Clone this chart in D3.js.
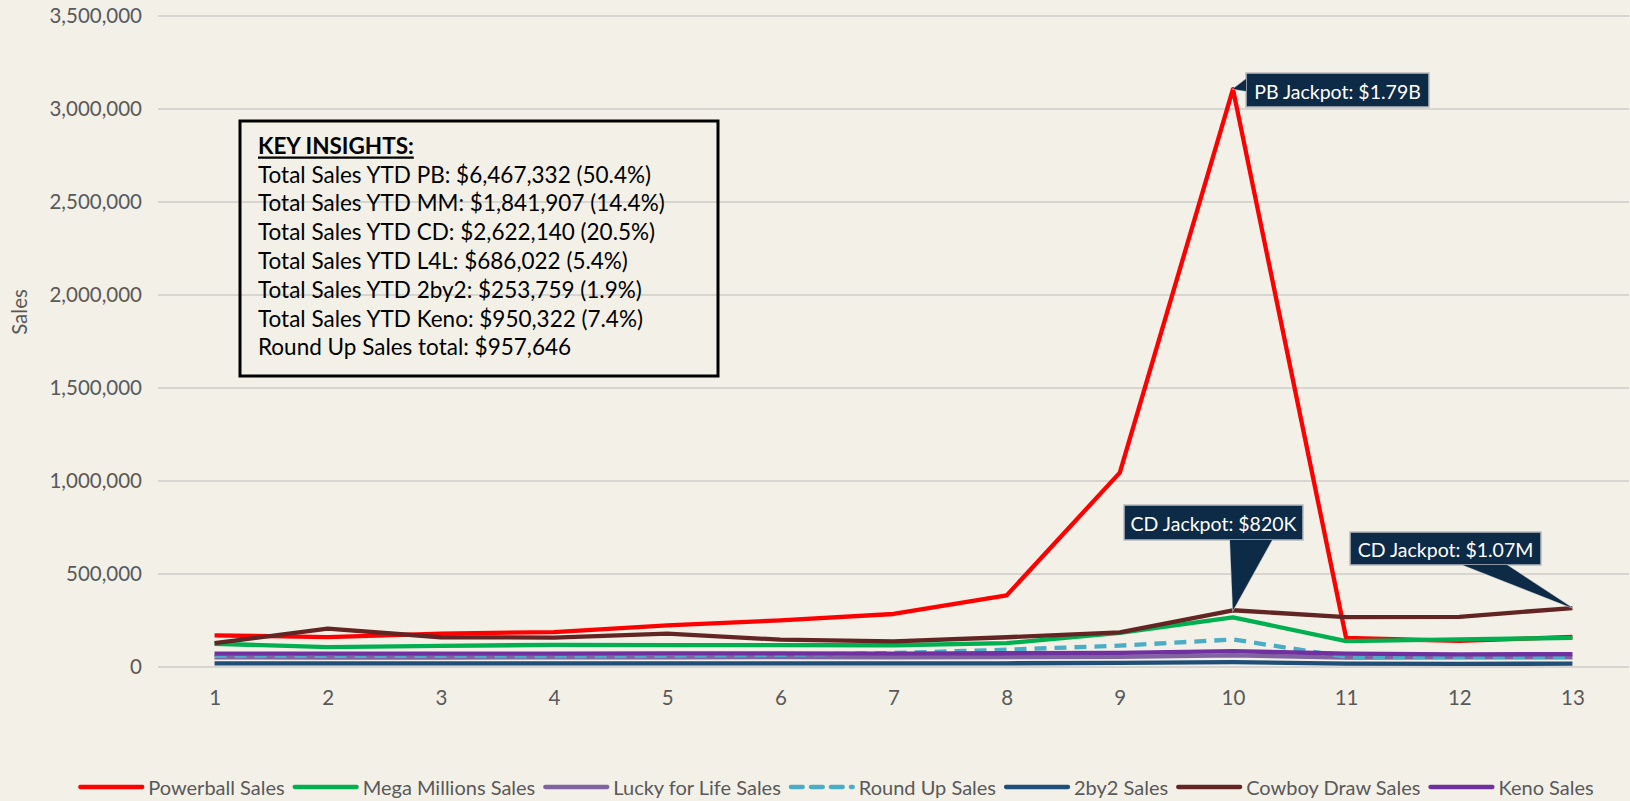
<!DOCTYPE html>
<html>
<head>
<meta charset="utf-8">
<script src="https://cdn.jsdelivr.net/npm/d3@7"></script>
<style>
  html, body { margin: 0; padding: 0; background: #f3f0e7; }
  svg { display: block; }
  text { font-family: Lato, "Open Sans", sans-serif; }
</style>
</head>
<body>
<svg id="chart" width="1630" height="801"></svg>
<script>
// ---- data ----
const weeks = [1,2,3,4,5,6,7,8,9,10,11,12,13];
const powerball    = [170000,161000,179000,188000,224000,251000,285000,385000,1045000,3107000,156000,140000,162000];
const megaMillions = [125000,107000,114000,119000,118000,118000,117000,128000,184000,267000,139000,148000,157000];
const luckyForLife = [52000,50000,51000,52000,52000,53000,52000,53000,54000,62000,51000,52000,52000];
const roundUp      = [60000,60000,60000,58000,60000,65000,75000,93000,115000,148000,55000,54000,54000];
const twoByTwo     = [19000,19000,19000,19000,19000,19000,19000,20000,22000,26000,18000,17000,18000];
const cowboyDraw   = [128000,206000,160000,158000,179000,147000,138000,160000,186000,305000,268000,270000,317000];
const keno         = [72000,72000,72000,72000,73000,73000,72000,74000,76000,85000,72000,68000,69000];
const seriesNames  = ["Powerball Sales","Mega Millions Sales","Lucky for Life Sales","Round Up Sales","2by2 Sales","Cowboy Draw Sales","Keno Sales"];
const seriesColors = ["#ff0000","#00b050","#8064a2","#4bacc6","#1f4e79","#632523","#7030a0"];
const yTicks = [0,500000,1000000,1500000,2000000,2500000,3000000,3500000];
const insights = [
  "Total Sales YTD PB: $6,467,332 (50.4%)",
  "Total Sales YTD MM: $1,841,907 (14.4%)",
  "Total Sales YTD CD: $2,622,140 (20.5%)",
  "Total Sales YTD L4L: $686,022 (5.4%)",
  "Total Sales YTD 2by2: $253,759 (1.9%)",
  "Total Sales YTD Keno: $950,322 (7.4%)",
  "Round Up Sales total: $957,646"
];
const callouts = [
  {text: "PB Jackpot: $1.79B", series: 0, week: 10},
  {text: "CD Jackpot: $820K", series: 5, week: 10},
  {text: "CD Jackpot: $1.07M", series: 5, week: 13}
];

const allSeries = [powerball, megaMillions, luckyForLife, roundUp, twoByTwo, cowboyDraw, keno];

(function () {
// ---- layout ----
const svg = d3.select("#chart");
const W = 1630, H = 801;
const pLeft = 158, pRight = 1629, pTop = 16, pBottom = 667;

const x = d3.scalePoint().domain(weeks).range([pLeft, pRight]).padding(0.5);
const y = d3.scaleLinear().domain([0, 3500000]).range([pBottom, pTop]);

svg.append("rect").attr("width", W).attr("height", H).attr("fill", "#f3f0e7");

// y axis + gridlines
const yAxis = d3.axisLeft(y).tickValues(yTicks).tickFormat(d3.format(",")).tickSize(0).tickPadding(16);
const gy = svg.append("g").attr("transform", `translate(${pLeft},0)`).call(yAxis);
gy.select(".domain").remove();
gy.selectAll("text").attr("fill", "#595959").style("font-size", "20.5px").style("font-family", "Lato, sans-serif");
svg.append("g").selectAll("line").data(yTicks).join("line")
  .attr("x1", pLeft).attr("x2", pRight)
  .attr("y1", d => y(d)).attr("y2", d => y(d))
  .attr("stroke", "#cfcdc8").attr("stroke-width", 1.5);

// x axis labels
const xAxis = d3.axisBottom(x).tickSize(0).tickPadding(23);
const gx = svg.append("g").attr("transform", `translate(0,${pBottom})`).call(xAxis);
gx.select(".domain").remove();
gx.selectAll("text").attr("fill", "#595959").style("font-size", "20.5px").style("font-family", "Lato, sans-serif");

// y title
svg.append("text").attr("transform", `translate(27,312) rotate(-90)`)
  .attr("text-anchor", "middle").attr("fill", "#595959").style("font-size", "20.5px").text("Sales");

// lines
const line = d3.line().x((d, i) => x(weeks[i])).y(d => y(d));
allSeries.forEach((s, k) => {
  svg.append("path").datum(s).attr("d", line)
    .attr("fill", "none").attr("stroke", seriesColors[k]).attr("stroke-width", 4.3)
    .attr("stroke-linejoin", "round")
    .attr("stroke-dasharray", k === 3 ? "12,8" : null);
});

// key insights box
const box = svg.append("g");
box.append("rect").attr("x", 240).attr("y", 121).attr("width", 478).attr("height", 255)
  .attr("fill", "none").attr("stroke", "#000").attr("stroke-width", 3);
box.append("text").attr("x", 258).attr("y", 145).attr("dominant-baseline", "central")
  .style("font-size", "22.5px").style("font-weight", "bold").style("text-decoration", "underline")
  .attr("fill", "#000").text("KEY INSIGHTS:");
box.selectAll("text.ins").data(insights).join("text").attr("class", "ins")
  .attr("x", 258).attr("y", (d, i) => 174 + i * 28.8).attr("dominant-baseline", "central")
  .style("font-size", "22.5px").attr("fill", "#000").text(d => d);

// callouts
const boxes = [
  {x0: 1246, y0: 73, w: 183, h: 34, wedge: (px, py, b) => [[b.x0, b.y0 + 6], [px, py], [b.x0, b.y0 + 18]]},
  {x0: 1124, y0: 505, w: 179, h: 35, wedge: (px, py, b) => [[1230, b.y0 + b.h], [px, py], [1272, b.y0 + b.h]]},
  {x0: 1350, y0: 532, w: 191, h: 33, wedge: (px, py, b) => [[1463, b.y0 + b.h], [px, py], [1507, b.y0 + b.h]]}
];
callouts.forEach((c, i) => {
  const b = boxes[i];
  const px = x(c.week), py = y(allSeries[c.series][weeks.indexOf(c.week)]);
  const g = svg.append("g");
  const wp = b.wedge(px, py, b);
  g.append("polygon").attr("points", wp.map(p => p.join(",")).join(" "))
    .attr("fill", "#0d2a47").attr("stroke", "#b9bcc0").attr("stroke-width", 1.2);
  g.append("rect").attr("x", b.x0).attr("y", b.y0).attr("width", b.w).attr("height", b.h)
    .attr("fill", "#0d2a47").attr("stroke", "#b9bcc0").attr("stroke-width", 1.5);
  g.append("polygon").attr("points", wp.map(p => p.join(",")).join(" ")).attr("fill", "#0d2a47");
  g.append("text").attr("x", b.x0 + b.w / 2).attr("y", b.y0 + b.h / 2 + 1)
    .attr("text-anchor", "middle").attr("dominant-baseline", "central")
    .attr("fill", "#fff").style("font-size", "19.5px").text(c.text);
});

// legend
const leg = svg.append("g");
const symW = 62, gapSym = 6, gapItem = 10, legY = 787;
const items = seriesNames.map((n, k) => {
  const t = leg.append("text").attr("y", legY).attr("dominant-baseline", "central")
    .attr("fill", "#595959").style("font-size", "20px").text(n);
  return {t, w: t.node().getComputedTextLength(), k};
});
const total = d3.sum(items, d => d.w + symW + gapSym) + gapItem * (items.length - 1);
let cx = 837 - total / 2;
items.forEach(it => {
  leg.append("line").attr("x1", cx).attr("x2", cx + symW).attr("y1", legY).attr("y2", legY)
    .attr("stroke", seriesColors[it.k]).attr("stroke-width", 4.3).attr("stroke-linecap", "round")
    .attr("stroke-dasharray", it.k === 3 ? "12,8" : null);
  it.t.attr("x", cx + symW + gapSym);
  cx += symW + gapSym + it.w + gapItem;
});
})();
</script>
</body>
</html>
